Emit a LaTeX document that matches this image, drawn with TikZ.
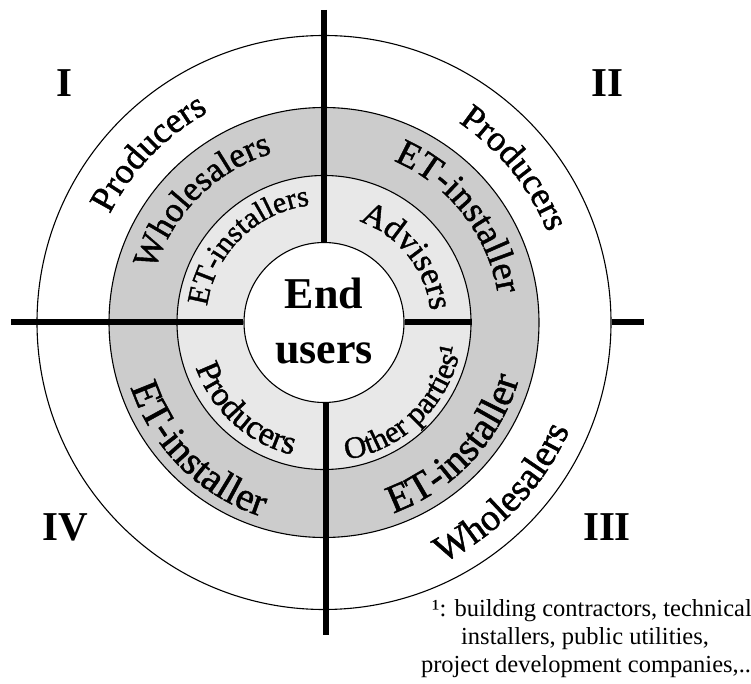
\documentclass[tikz,border=0pt]{standalone}
\usepackage{fontspec}
\setmainfont{Liberation Serif}
\newfontfamily\ringfont[FakeBold=1.2]{Liberation Serif}
\usetikzlibrary{decorations.text,calc}

\definecolor{ringgrey}{gray}{0.8}
\definecolor{ringlight}{gray}{0.91}

\tikzset{
  ring/.style={circle, draw=black, line width=1.1pt, inner sep=0pt},
  divider/.style={line width=6pt},
  quadrant/.style={font=\fontsize{41}{41}\selectfont\bfseries, inner sep=0pt},
  centre/.style={font=\fontsize{44}{44}\selectfont\bfseries, anchor=base, inner sep=0pt},
  footnote/.style={font=\fontsize{24.5}{28}\selectfont, anchor=base, inner sep=0pt},
}

% Text running clockwise over the upper half: #1 centre angle, #2 baseline radius,
% #3 font size, #4 text
\newcommand\uparc[4]{%
  \pgfmathsetmacro\arcA{#1+80}\pgfmathsetmacro\arcB{#1-80}%
  \path[decorate, decoration={text along path, text align=center,
      text={|\ringfont\fontsize{#3}{#3}\selectfont|#4}}]
    ($(C)+(\arcA:#2pt)$) arc[start angle=\arcA, end angle=\arcB, radius=#2pt];}
% Text running counter-clockwise under the lower half
\newcommand\lowarc[4]{%
  \pgfmathsetmacro\arcA{#1-80}\pgfmathsetmacro\arcB{#1+80}%
  \path[decorate, decoration={text along path, text align=center,
      text={|\ringfont\fontsize{#3}{#3}\selectfont|#4}}]
    ($(C)+(\arcA:#2pt)$) arc[start angle=\arcA, end angle=\arcB, radius=#2pt];}

\begin{document}
\begin{tikzpicture}[x=1pt,y=1pt]
\useasboundingbox (0,0) rectangle (751,683);
\coordinate (C) at (324,360.5);

% concentric rings
\node[ring, fill=white, minimum size=574pt] (outer) at (C) {};
\node[ring, fill=ringgrey, minimum size=430pt] (grey) at (C) {};
\node[ring, fill=ringlight, minimum size=294pt] (light) at (C) {};
\node[ring, fill=white, minimum size=160pt] (core) at (C) {};

% quadrant dividers
\coordinate (topend) at (324,673);
\coordinate (botend) at (325.5,48);
\coordinate (leftend) at (11,360.5);
\coordinate (rightend) at (643.7,360.5);
\draw[divider] (topend) -- (core.north);
\draw[divider] (core.south -| botend) -- (botend);
\draw[divider] (leftend) -- (core.west);
\draw[divider] (core.east) -- (light.east);
\draw[divider] (outer.east) -- (rightend);

% centre
\node[centre] (endw) at (324,374.7) {End};
\node[centre] (usersw) at (324,319.7) {users};

% quadrant numbers
\node[quadrant] (qI) at (64,600) {I};
\node[quadrant] (qII) at (607,600) {II};
\node[quadrant] (qIII) at (607,156) {III};
\node[quadrant] (qIV) at (65,156) {IV};

% quadrant I
\uparc{136}{240}{36}{Producers}
\uparc{135}{177}{35}{Wholesalers}
\uparc{134.5}{118}{30}{ET-installers}
% quadrant II
\uparc{39}{241}{36}{Producers}
\uparc{38}{176}{37}{ET-installer}
\uparc{38.5}{107}{34}{Advisers}
% quadrant III
\lowarc{-43.7}{268}{38}{Wholesalers}
\lowarc{-43.1}{203}{40}{ET-installer}
\lowarc{-45.5}{139}{31}{Other parties¹}
% quadrant IV
\lowarc{228}{136}{34}{Producers}
\lowarc{225.3}{204}{40}{ET-installer}

% footnote
\node[footnote] (fn1) at (592,67) {¹: building contractors, technical};
\node[footnote] (fn2) at (585,39) {installers, public utilities,};
\node[footnote] (fn3) at (586,11) {project development companies,..};
\end{tikzpicture}
\end{document}
